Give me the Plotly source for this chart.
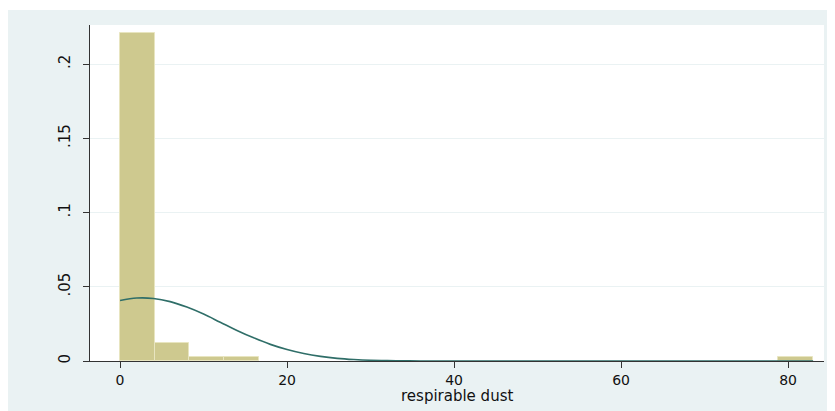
import plotly.graph_objects as go

# Histogram bins (respirable dust), density heights
bin_left = [0.0, 4.15, 8.3, 12.45, 78.85]
bin_width = [4.15, 4.15, 4.15, 4.15, 4.15]
density = [0.2207, 0.0123, 0.003, 0.003, 0.003]

# Normal density overlay
curve_x = [0, 2, 4, 6, 8, 10, 12, 14, 16, 18, 20, 22, 24, 26, 28, 30, 32, 34, 36, 40, 50, 60, 70, 83]
curve_y = [0.0408, 0.0424, 0.0421, 0.0400, 0.0363, 0.0316, 0.0261, 0.0206, 0.0156, 0.0112,
           0.0077, 0.0050, 0.0031, 0.0018, 0.0010, 0.0005, 0.0003, 0.0001, 0.00005, 0.0,
           0.0, 0.0, 0.0, 0.0]

x_ticks = [0, 20, 40, 60, 80]
y_ticks = [0, 0.05, 0.1, 0.15, 0.2]
y_tick_labels = ["0", ".05", ".1", ".15", ".2"]
x_title = "respirable dust"

BG = "#EAF2F3"
FONT = "DejaVu Sans"

fig = go.Figure()
fig.add_trace(go.Bar(
    x=[l + w / 2 for l, w in zip(bin_left, bin_width)],
    y=density,
    width=bin_width,
    marker=dict(color="#CEC98F", line=dict(color="#E8E5C0", width=1)),
    hoverinfo="skip",
))
fig.add_trace(go.Scatter(
    x=curve_x, y=curve_y, mode="lines",
    line=dict(color="#2F6E68", width=1.6, shape="spline"),
    hoverinfo="skip",
))

# The page body has an 8px margin; the figure is sized to fill the rest of the window.
OFF = 8
W, H = 835 - OFF, 411 - OFF
L, R, T, B = 90 - OFF, 11, 25 - OFF, 50
pw, ph = W - L - R, H - T - B

def px_to_paper_x(px):
    return (px - OFF - L) / pw

def px_to_paper_y(py):
    return (H - B - (py - OFF)) / ph

fig.update_layout(
    width=W, height=H,
    margin=dict(l=L, r=R, t=T, b=B, pad=0),
    paper_bgcolor=BG,
    plot_bgcolor="white",
    showlegend=False,
    bargap=0,
    font=dict(family=FONT, size=15, color="#111111"),
    shapes=[
        dict(type="rect", xref="paper", yref="paper",
             x0=px_to_paper_x(0), x1=px_to_paper_x(835), y0=px_to_paper_y(0), y1=px_to_paper_y(10),
             fillcolor="white", line=dict(width=0), layer="below"),
    ],
    annotations=[
        dict(text=x_title, xref="paper", yref="paper", x=0.5, y=px_to_paper_y(396),
             xanchor="center", yanchor="middle", showarrow=False,
             font=dict(family=FONT, size=15, color="#111111")),
    ],
    xaxis=dict(
        range=[-3.6, 84.3],
        tickvals=x_ticks,
        ticks="outside", ticklen=6, tickcolor="#333333", tickwidth=1,
        showline=True, linecolor="#333333", linewidth=1.2,
        showgrid=False, zeroline=False, automargin=False,
        tickfont=dict(family=FONT, size=14),
        ticklabelstandoff=0,
    ),
    yaxis=dict(
        range=[0, 0.2263],
        tickvals=y_ticks, ticktext=y_tick_labels,
        tickangle=-90,
        ticks="outside", ticklen=6, tickcolor="#333333", tickwidth=1,
        showline=True, linecolor="#333333", linewidth=1.2,
        showgrid=True, gridcolor=BG, gridwidth=1,
        zeroline=False, automargin=False,
        tickfont=dict(family=FONT, size=15),
        ticklabelstandoff=7,
    ),
)

fig.write_html("out.html")
